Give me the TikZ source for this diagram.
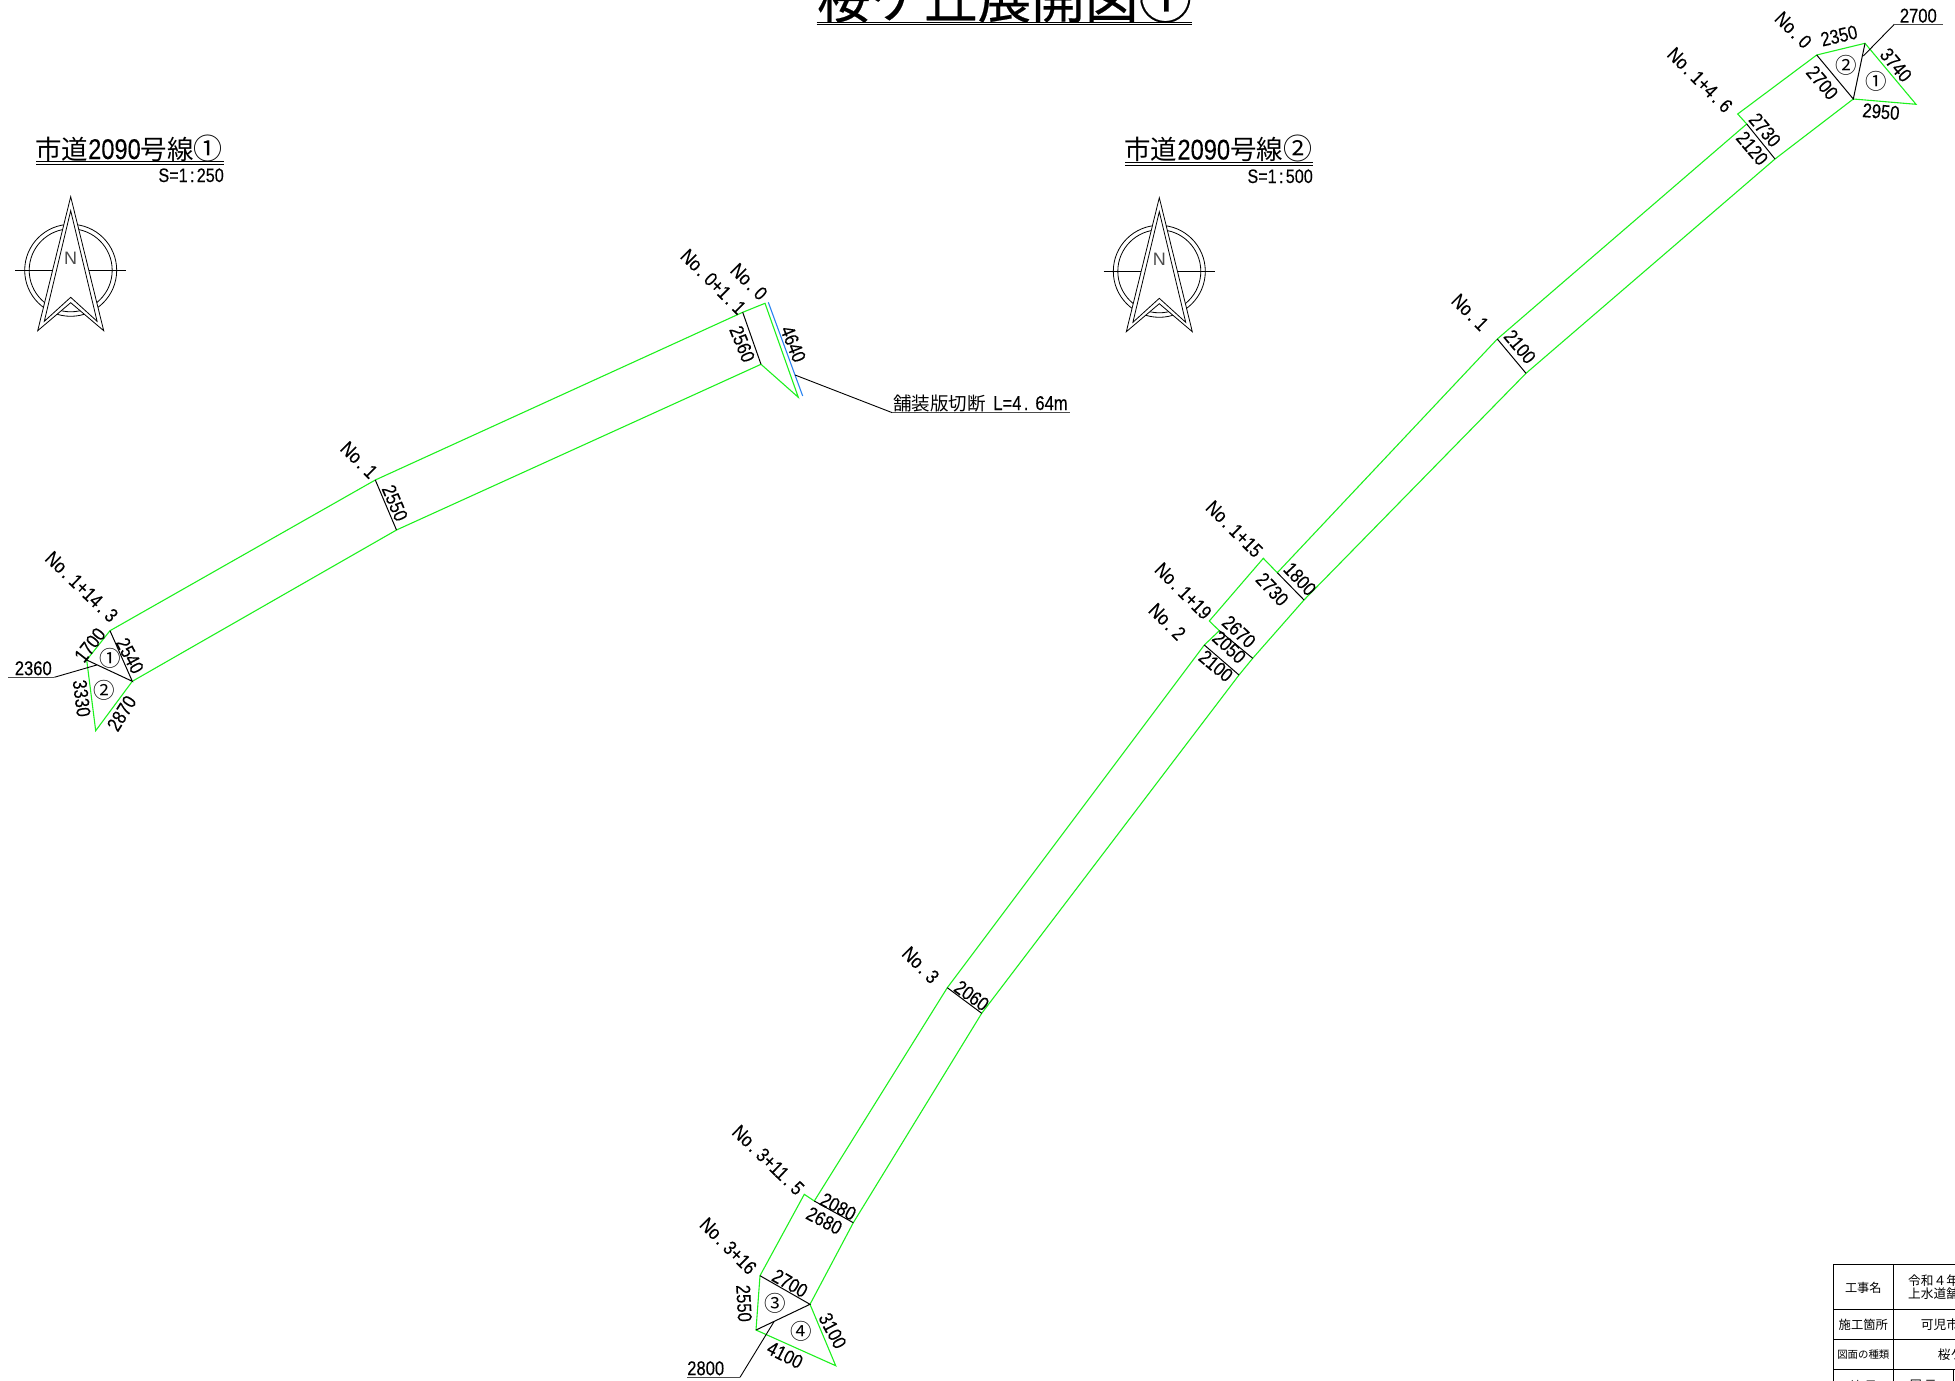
\documentclass[tikz,border=0pt]{standalone}
\usepackage{fontspec}
\setmainfont{Liberation Sans}
\newfontfamily\jpfont{Noto Sans CJK JP}
\newfontfamily\jpheavy[FakeBold=0.35]{Noto Sans CJK JP}
\newfontfamily\hwfont[FakeStretch=0.83,FakeBold=0.15]{Liberation Sans}
\newcommand{\fs}[1]{\fontsize{#1}{#1}\selectfont}
\newcommand{\dt}{\kern2.3pt.\kern5pt}
\newcommand{\cln}{\kern2.3pt:\kern2.3pt}
\definecolor{roadgreen}{RGB}{30,240,30}
\definecolor{cutblue}{RGB}{40,130,240}
\tikzset{
  road/.style={draw=roadgreen,line width=1.1pt,line join=miter},
  cross/.style={draw=black,line width=1pt},
  leader/.style={draw=black,line width=.9pt},
  under/.style={draw=black!70,line width=1.5pt},
  dbl/.style={draw=black,line width=.9pt},
  dimtxt/.style={font=\hwfont\fs{20},inner sep=0pt,anchor=center,text=black},
  circtxt/.style={font=\jpfont\fs{21.5},inner sep=0pt,anchor=center},
  ttl/.style={inner sep=0pt,anchor=base east,font=\fs{26}},
  scaletxt/.style={font=\hwfont\fs{19.5},inner sep=0pt,anchor=base east},
  tbl/.style={draw=black,line width=1pt},
  cell/.style={inner sep=0pt,anchor=center},
  cellL/.style={inner sep=0pt,anchor=west},
  northmark/.pic={
    \draw[line width=.8pt] (0,0) circle[radius=46];
    \draw[line width=.8pt] (0,0) circle[radius=41.5];
    \draw[line width=.8pt] (-55.7,0) -- (55.5,0);
    \draw[line width=.8pt,fill=white] (0,-73.6) -- (-33,60.4) -- (0,32.4) -- (33,60.4) -- cycle;
    \draw[line width=.8pt] (0,-59.6) -- (-26.4,51) -- (0,27) -- (26.4,51) -- cycle;
    \node[inner sep=0pt,font=\fs{18},text=black!70] (-n) at (0,-12) {N};
  }
}
\begin{document}
\begin{tikzpicture}[x=1pt,y=-1pt]
\useasboundingbox (0,0) rectangle (1955,1381);
\clip (0,0) rectangle (1955,1381);

% ---------- main title
\node[inner sep=0pt,anchor=base west,font=\jpheavy\fs{53.6}] (maintitle) at (816.7,18.3) {桜ケ丘展開図①};
\coordinate (mtL) at (816.7,22.3); \coordinate (mtR) at (1191.7,22.3);
\coordinate (mtL2) at (816.7,24.6); \coordinate (mtR2) at (1191.7,24.6);
\draw[dbl] (mtL) -- (mtR); \draw[dbl] (mtL2) -- (mtR2);

% ---------- left heading
\node[ttl] (titleA) at (223,159) {\jpfont\fs{26.5}市道{\hwfont\fs{28.5}2090}号線{\fs{29}①}};
\coordinate (taL) at (36,161.7); \coordinate (taR) at (223.5,161.7);
\coordinate (taL2) at (36,164); \coordinate (taR2) at (223.5,164);
\draw[dbl] (taL) -- (taR); \draw[dbl] (taL2) -- (taR2);
\node[scaletxt] (scaleA) at (224,182) {S=1\cln 250};
\pic (northA) at (70.7,270.3) {northmark};

% ---------- right heading
\node[ttl] (titleB) at (1312.3,159.5) {\jpfont\fs{26.5}市道{\hwfont\fs{28.5}2090}号線{\fs{29}②}};
\coordinate (tbL) at (1125,162.7); \coordinate (tbR) at (1312.5,162.7);
\coordinate (tbL2) at (1125,165); \coordinate (tbR2) at (1312.5,165);
\draw[dbl] (tbL) -- (tbR); \draw[dbl] (tbL2) -- (tbR2);
\node[scaletxt] (scaleB) at (1313,183) {S=1\cln 500};
\pic (northB) at (1159.3,271.3) {northmark};

% ---------- road 1
\coordinate (a0t) at (765,303.3);
\coordinate (a1t) at (742.7,312.3);
\coordinate (a1b) at (761,364.3);
\coordinate (aTip) at (798.3,397.3);
\coordinate (a2t) at (375.3,480);
\coordinate (a2b) at (396.5,530);
\coordinate (a3) at (110,630.7);
\coordinate (a4) at (132.3,681.3);
\coordinate (a5) at (86.7,660);
\coordinate (a6) at (95.7,730.7);
\draw[road] (a5) -- (a3) -- (a2t) -- (a1t) -- (a0t) -- (aTip) -- (a1b) -- (a2b) -- (a4) -- (a6) -- cycle;
\draw[cross] (a1t) -- (a1b);
\draw[cross] (a2t) -- (a2b);
\draw[cross] (a3) -- (a4) -- (a5);
\coordinate (blA) at (768.3,302.3); \coordinate (blB) at (802.7,396);
\draw[draw=cutblue,line width=1.1pt] (blA) -- (blB);
\coordinate (cutEnd) at (795,375); \coordinate (cutKnee) at (892.3,412.7); \coordinate (cutR) at (1070,412.7);
\draw[leader] (cutEnd) -- (cutKnee);
\draw[under] (cutKnee) -- (cutR);
\node[inner sep=0pt,anchor=base west,font=\fs{18.5}] (cutText) at (893,410) {\jpfont 舗装版切断{\hwfont\fs{20}\kern3pt\ L=4\kern2.3pt.\kern7pt 64m}};
\coordinate (l1a) at (96.7,665); \coordinate (l1b) at (54.3,677.3); \coordinate (l1c) at (8.3,677.3);
\draw[leader] (l1a) -- (l1b);
\draw[under] (l1b) -- (l1c);

\node[dimtxt,rotate=-45] (t01) at (713.3,281.7) {No\dt 0+1\dt 1};
\node[dimtxt,rotate=-45] (t02) at (749,281.7) {No\dt 0};
\node[dimtxt,rotate=-68] (t03) at (742.3,344) {2560};
\node[dimtxt,rotate=-68] (t04) at (793.3,344) {4640};
\node[dimtxt,rotate=-45] (t05) at (359,460) {No\dt 1};
\node[dimtxt,rotate=-67] (t06) at (395,503) {2550};
\node[dimtxt,rotate=-44] (t07) at (81.7,586.7) {No\dt 1+14\dt 3};
\node[dimtxt,rotate=52] (t08) at (90,645) {1700};
\node[dimtxt,rotate=-62] (t09) at (130,655.7) {2540};
\node[dimtxt] (t10) at (33.3,668.3) {2360};
\node[dimtxt,rotate=-83] (t11) at (81.7,698.3) {3330};
\node[dimtxt,rotate=58] (t12) at (121.7,713.3) {2870};
\node[circtxt] (c01) at (110,658.3) {①};
\node[circtxt] (c02) at (104,690) {②};

% ---------- road 2
\coordinate (E) at (1816.7,55);
\coordinate (F) at (1865,43.3);
\coordinate (G) at (1853.3,99);
\coordinate (H) at (1916,104.3);
\coordinate (I) at (1737.7,114);
\coordinate (J) at (1746.7,124);
\coordinate (K) at (1775,159);
\coordinate (L) at (1497.3,339);
\coordinate (Lb) at (1526,373.3);
\coordinate (M) at (1277.3,572.7);
\coordinate (Mb) at (1304,600);
\coordinate (N) at (1263.3,558.3);
\coordinate (O) at (1209.3,621);
\coordinate (P) at (1219.3,630.7);
\coordinate (Pb) at (1252.7,658.3);
\coordinate (S) at (1204.3,645);
\coordinate (Sb) at (1239,675);
\coordinate (T) at (947.3,987.7);
\coordinate (Tb) at (981.7,1013.3);
\coordinate (V) at (814.3,1201);
\coordinate (Vb) at (853.3,1222.7);
\coordinate (U) at (804.3,1194.3);
\coordinate (X) at (760,1275.7);
\coordinate (Y) at (810,1304.3);
\coordinate (Z) at (756,1330);
\coordinate (AA) at (835.7,1365.7);
\draw[road] (G) -- (H) -- (F) -- (E) -- (I) -- (J) -- (L) -- (M) -- (N) -- (O) -- (P) -- (S) -- (T) -- (V) -- (U) -- (X) -- (Z) -- (AA) -- (Y) -- (Vb) -- (Tb) -- (Sb) -- (Pb) -- (Mb) -- (Lb) -- (K) -- cycle;
\draw[cross] (E) -- (G) -- (F);
\draw[cross] (J) -- (K);
\draw[cross] (L) -- (Lb);
\draw[cross] (M) -- (Mb);
\draw[cross] (P) -- (Pb);
\draw[cross] (S) -- (Sb);
\draw[cross] (T) -- (Tb);
\draw[cross] (V) -- (Vb);
\draw[cross] (X) -- (Y) -- (Z);
\coordinate (l2a) at (1863.3,56); \coordinate (l2b) at (1894.3,24.3); \coordinate (l2c) at (1942.7,24.3);
\draw[leader] (l2a) -- (l2b);
\draw[under] (l2b) -- (l2c);
\coordinate (l3a) at (774,1321.7); \coordinate (l3b) at (740,1377.3); \coordinate (l3c) at (687.3,1377.3);
\draw[leader] (l3a) -- (l3b);
\draw[under] (l3b) -- (l3c);

\node[dimtxt,rotate=-45] (r01) at (1793.3,30) {No\dt 0};
\node[dimtxt,rotate=-45] (r02) at (1700,80) {No\dt 1+4\dt 6};
\node[dimtxt,rotate=13] (r03) at (1839,35.7) {2350};
\node[dimtxt] (r04) at (1918.3,15.7) {2700};
\node[dimtxt,rotate=-50] (r05) at (1896,65) {3740};
\node[dimtxt,rotate=-50] (r06) at (1822.3,82.7) {2700};
\node[dimtxt,rotate=-5] (r07) at (1881,111.7) {2950};
\node[dimtxt,rotate=-50] (r08) at (1765,130) {2730};
\node[dimtxt,rotate=-50] (r09) at (1752.3,148.3) {2120};
\node[circtxt] (c03) at (1846,65.7) {②};
\node[circtxt] (c04) at (1876.7,81) {①};
\node[dimtxt,rotate=-45] (r10) at (1470,312.3) {No\dt 1};
\node[dimtxt,rotate=-50] (r11) at (1520,346.7) {2100};
\node[dimtxt,rotate=-45] (r12) at (1234.3,529) {No\dt 1+15};
\node[dimtxt,rotate=-47] (r13) at (1300,579) {1800};
\node[dimtxt,rotate=-47] (r14) at (1272.3,589.3) {2730};
\node[dimtxt,rotate=-45] (r15) at (1183.3,591) {No\dt 1+19};
\node[dimtxt,rotate=-45] (r16) at (1167.3,621.7) {No\dt 2};
\node[dimtxt,rotate=-43] (r17) at (1239,631.7) {2670};
\node[dimtxt,rotate=-43] (r18) at (1229.3,647.3) {2050};
\node[dimtxt,rotate=-40] (r19) at (1216,666) {2100};
\node[dimtxt,rotate=-45] (r20) at (920.7,965) {No\dt 3};
\node[dimtxt,rotate=-36] (r21) at (971.7,995.7) {2060};
\node[dimtxt,rotate=-44] (r22) at (768.3,1160) {No\dt 3+11\dt 5};
\node[dimtxt,rotate=-28] (r23) at (838.3,1206.7) {2080};
\node[dimtxt,rotate=-28] (r24) at (824.3,1220.7) {2680};
\node[dimtxt,rotate=-45] (r25) at (728.3,1246) {No\dt 3+16};
\node[dimtxt,rotate=-30] (r26) at (790,1283.3) {2700};
\node[dimtxt,rotate=-87] (r27) at (744,1303.3) {2550};
\node[dimtxt,rotate=-62] (r28) at (832.7,1330.7) {3100};
\node[dimtxt,rotate=-27] (r29) at (785,1355) {4100};
\node[dimtxt] (r30) at (705.7,1368.3) {2800};
\node[circtxt] (c05) at (775,1303.3) {③};
\node[circtxt] (c06) at (801,1331.7) {④};

% ---------- title block
\coordinate (bTL) at (1833.3,1264.3);
\coordinate (bTR) at (1960,1264.3);
\draw[tbl] (1960,1264.3) -- (bTL) -- (1833.3,1390);
\draw[tbl] (1893.3,1264.3) -- (1893.3,1390);
\draw[tbl] (1953.3,1369.7) -- (1953.3,1390);
\draw[tbl] (1833.3,1309.3) -- (1960,1309.3);
\draw[tbl] (1833.3,1339.3) -- (1960,1339.3);
\draw[tbl] (1833.3,1369.7) -- (1960,1369.7);
\node[cell,font=\jpfont\fs{12.2}] (b1) at (1863.3,1287.7) {工事名};
\node[cellL,font=\jpfont\fs{12.7}] (b2) at (1908,1280.7) {令和４年};
\node[cellL,font=\jpfont\fs{12.7}] (b3) at (1908,1293.3) {上水道舗};
\node[cell,font=\jpfont\fs{12.3}] (b4) at (1863.3,1325) {施工箇所};
\node[cellL,font=\jpfont\fs{12.7}] (b5) at (1920.7,1325) {可児市};
\node[cell,font=\jpfont\fs{10.4}] (b6) at (1863.3,1355) {図面の種類};
\node[cellL,font=\jpfont\fs{12.7}] (b7) at (1937.7,1355) {桜ケ};
\node[cell,font=\jpfont\fs{12}] (b8) at (1863.3,1385.5) {縮 尺};
\node[cell,font=\jpfont\fs{12}] (b9) at (1923.3,1385.5) {図 示};
\end{tikzpicture}
\end{document}
